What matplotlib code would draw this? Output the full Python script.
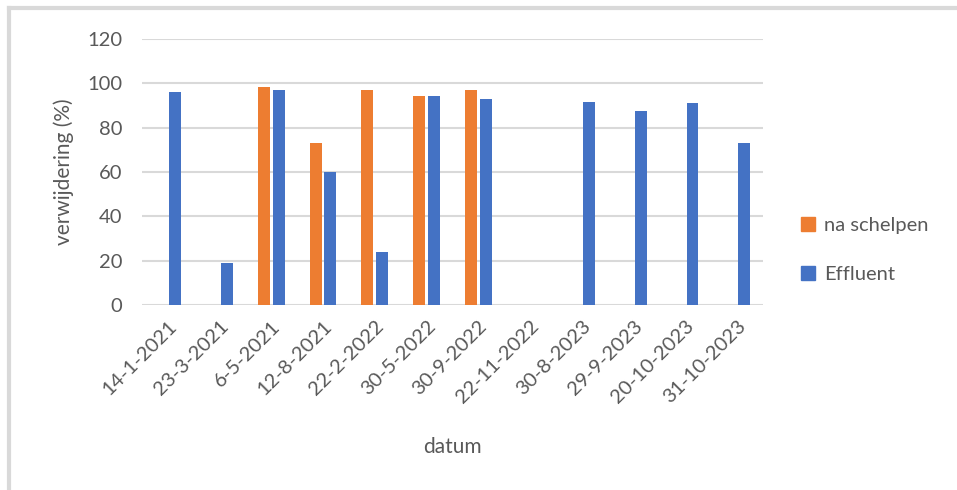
import numpy as np
import matplotlib
matplotlib.use("Agg")
import matplotlib.pyplot as plt
from matplotlib.lines import Line2D

# data
datums = ["14-1-2021", "23-3-2021", "6-5-2021", "12-8-2021", "22-2-2022", "30-5-2022",
          "30-9-2022", "22-11-2022", "30-8-2023", "29-9-2023", "20-10-2023", "31-10-2023"]
na_schelpen = [np.nan, np.nan, 98.5, 73, 97, 94.5, 97, np.nan, np.nan, np.nan, np.nan, np.nan]
effluent = [96, 19, 97, 60, 24, 94.5, 93, np.nan, 91.5, 87.5, 91, 73]

ORANGE = "#ED7D31"
BLUE = "#4472C4"
TXT = "#595959"
GRID = "#D9D9D9"

plt.rcParams['font.family'] = ['Lato', 'DejaVu Sans']

fig = plt.figure(figsize=(9.57, 4.9), dpi=100)
ax = fig.add_axes([0.1484, 0.3776, 0.6486, 0.5428])

x = np.arange(len(datums))
w = 0.23
off = 0.142
ax.bar(x - off, na_schelpen, w, color=ORANGE, label="na schelpen", zorder=3)
ax.bar(x + off, effluent, w, color=BLUE, label="Effluent", zorder=3)

ax.set_xlim(-0.5, len(datums) - 0.5)
ax.set_ylim(0, 120)
ax.set_yticks(np.arange(0, 121, 20))
ax.yaxis.grid(True, color=GRID, linewidth=1.5, zorder=0)
ax.set_axisbelow(True)
for s in ax.spines.values():
    s.set_visible(False)
ax.tick_params(length=0, colors=TXT, labelsize=14.5)
ax.tick_params(axis='y', pad=14)
ax.tick_params(axis='x', pad=9)
ax.set_xticks(x)
ax.set_xticklabels(datums, rotation=45, ha='right', rotation_mode='anchor')

ax.set_ylabel("verwijdering (%)", color=TXT, fontsize=15, labelpad=10)
ax.set_xlabel("datum", color=TXT, fontsize=15, labelpad=22)

handles = [Line2D([0], [0], marker='s', linestyle='', markersize=10, color=ORANGE),
           Line2D([0], [0], marker='s', linestyle='', markersize=10, color=BLUE)]
fig.legend(handles, ["na schelpen", "Effluent"], loc='center left',
           bbox_to_anchor=(0.815, 0.49), frameon=False, fontsize=14.5,
           labelcolor=TXT, handletextpad=0.3, labelspacing=1.6, handlelength=1.0)

# thin frame at top and left, as in the original screenshot
fig.add_artist(Line2D([9 / 957, 1], [1 - 8 / 490, 1 - 8 / 490], color="#D9D9D9", lw=3,
                      transform=fig.transFigure))
fig.add_artist(Line2D([9 / 957, 9 / 957], [0, 1 - 8 / 490], color="#D9D9D9", lw=3,
                      transform=fig.transFigure))

fig.savefig("out.png", dpi=100, facecolor="white")
